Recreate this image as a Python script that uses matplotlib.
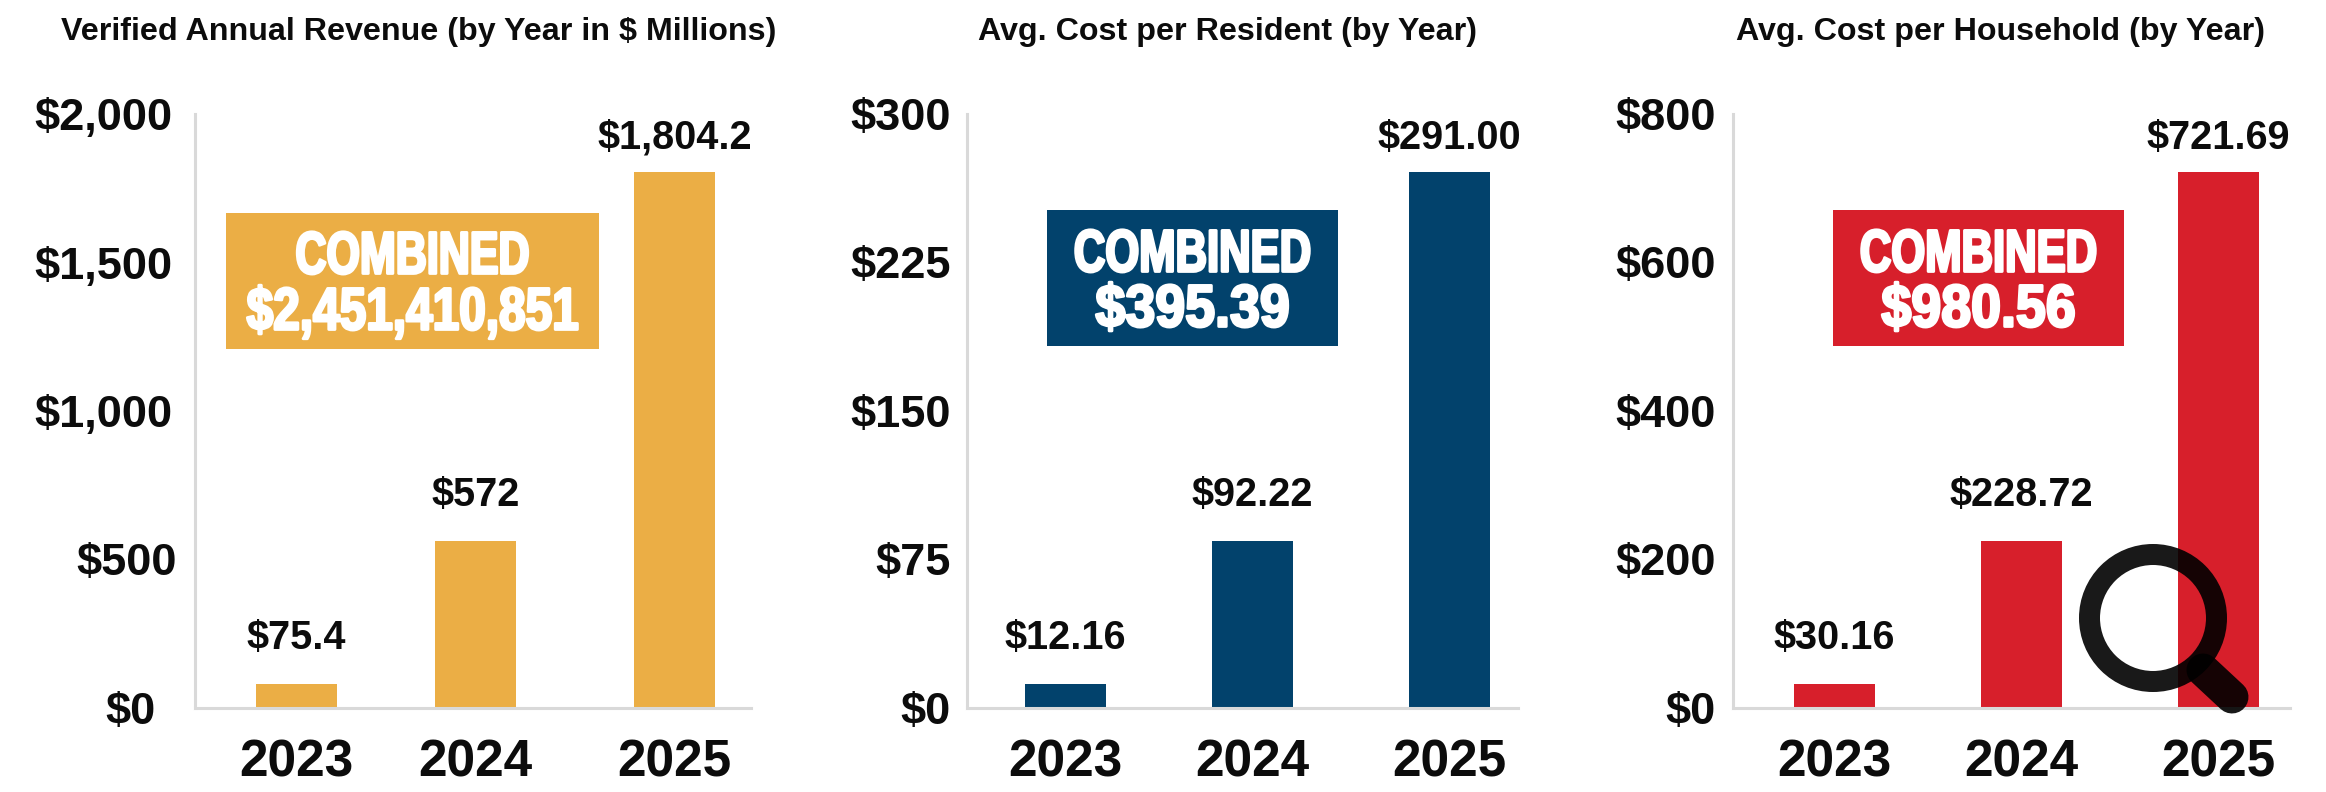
import matplotlib
matplotlib.use("Agg")
import matplotlib.pyplot as plt
from matplotlib.patches import Circle, Rectangle
from matplotlib.lines import Line2D
from matplotlib.transforms import Affine2D
import matplotlib.patheffects as pe

W, H = 2326, 792
plt.rcParams['font.family'] = ['Liberation Sans', 'DejaVu Sans']

years = ['2023', '2024', '2025']
titles = ['Verified Annual Revenue (by Year in $ Millions)',
          'Avg. Cost per Resident (by Year)',
          'Avg. Cost per Household (by Year)']
revenue_bars = [81, 562, 1805]
resident_bars = [12.1, 84.3, 270.5]
household_bars = [32, 225, 722]
revenue_labels = ['$75.4', '$572', '$1,804.2']
resident_labels = ['$12.16', '$92.22', '$291.00']
household_labels = ['$30.16', '$228.72', '$721.69']
revenue_ticks = [0, 500, 1000, 1500, 2000]
resident_ticks = [0, 75, 150, 225, 300]
household_ticks = [0, 200, 400, 600, 800]
combined_values = ['$2,451,410,851', '$395.39', '$980.56']
colors = ['#EBAE45', '#02426C', '#D71F2B']

panels = [
    dict(x0=195, x1=751, bars=[(256, 337), (435, 516), (634, 715)], box=(226, 213, 599, 349),
         title_cx=419, pads=[39, 18, 23, 23, 23], sx=(0.72, 0.80), dy=(45, 101)),
    dict(x0=967, x1=1518, bars=[(1025, 1106), (1212, 1293), (1409, 1490)], box=(1047, 210, 1338, 346),
         title_cx=1228, pads=[16] * 5, sx=(0.73, 0.90), dy=(46, 101)),
    dict(x0=1733, x1=2290, bars=[(1794, 1875), (1981, 2062), (2178, 2259)], box=(1833, 210, 2124, 346),
         title_cx=2001, pads=[17] * 5, sx=(0.73, 0.90), dy=(46, 101)),
]
data = [revenue_bars, resident_bars, household_bars]
labels = [revenue_labels, resident_labels, household_labels]
ticks = [revenue_ticks, resident_ticks, household_ticks]
top, base = 114, 708
label_gaps = [27, 27, 15]


class Condensed(pe.AbstractPathEffect):
    """Squeeze a text horizontally about a pixel x and thicken it, standing in for a heavy condensed face."""

    def __init__(self, cx, sx, lw):
        super().__init__()
        self.cx, self.sx, self.lw = cx, sx, lw

    def draw_path(self, renderer, gc, tpath, affine, rgbFace=None):
        squeeze = affine + Affine2D().translate(-self.cx, 0).scale(self.sx, 1).translate(self.cx, 0)
        g = renderer.new_gc()
        g.copy_properties(gc)
        g.set_linewidth(self.lw)
        g.set_foreground('white')
        g.set_joinstyle('round')
        renderer.draw_path(g, tpath, squeeze, rgbFace)
        g.restore()


fig = plt.figure(figsize=(W / 100, H / 100), dpi=100, facecolor='white')

for i, p in enumerate(panels):
    ax = fig.add_axes([p['x0'] / W, 1 - base / H, (p['x1'] - p['x0']) / W, (base - top) / H])
    ax.set_xlim(p['x0'], p['x1'])
    ax.set_ylim(0, ticks[i][-1])
    ax.patch.set_alpha(0)
    for s in ('top', 'right'):
        ax.spines[s].set_visible(False)
    for s in ('left', 'bottom'):
        ax.spines[s].set_color('#D9D9D9')
        ax.spines[s].set_linewidth(2.2)
    centers = [(a + b) / 2 for a, b in p['bars']]
    widths = [b - a for a, b in p['bars']]
    ax.bar(centers, data[i], width=widths, color=colors[i], zorder=2)
    ax.set_yticks(ticks[i])
    ax.set_yticklabels([f'${t:,}' for t in ticks[i]], fontsize=32.5, fontweight='bold', color='#0c0c0c')
    ax.set_xticks(centers)
    ax.set_xticklabels(years, fontsize=37, fontweight='bold', color='#0c0c0c')
    ax.tick_params(axis='both', length=0)
    ax.tick_params(axis='x', pad=22)
    for tick, pad in zip(ax.yaxis.get_major_ticks(), p['pads']):
        tick.set_pad(pad * 0.72)
    for c, v, t, gap in zip(centers, data[i], labels[i], label_gaps):
        ax.annotate(t, (c, v), xytext=(0, gap), textcoords='offset pixels', ha='center', va='bottom',
                    fontsize=28.5, fontweight='bold', color='#0c0c0c')
    fig.text(p['title_cx'] / W, 1 - 32 / H, titles[i], ha='center', va='center', fontsize=23.2,
             fontweight='bold', color='#0c0c0c')
    bx0, by0, bx1, by1 = p['box']
    fig.add_artist(Rectangle((bx0 / W, 1 - by1 / H), (bx1 - bx0) / W, (by1 - by0) / H,
                             transform=fig.transFigure, color=colors[i], lw=0, zorder=3))
    cx = (bx0 + bx1) / 2
    for txt, yy, sx in zip(('COMBINED', combined_values[i]), p['dy'], p['sx']):
        fig.text(cx / W, 1 - (by0 + yy) / H, txt, ha='center', va='center', color='white', fontsize=43,
                 fontweight='bold', zorder=4, path_effects=[Condensed(cx, sx, 2.0)])

# magnifying glass icon
mag = '#000000'
fig.add_artist(Circle((2153, H - 618), 63.5, transform=None, fill=False, ec=mag, lw=21 * 0.72, alpha=0.9, zorder=5))
fig.add_artist(Line2D([2203, 2232], [H - 670, H - 697], transform=None, color=mag, lw=33 * 0.72,
                      solid_capstyle='round', alpha=0.9, zorder=5))

fig.savefig('out.png', dpi=100)
